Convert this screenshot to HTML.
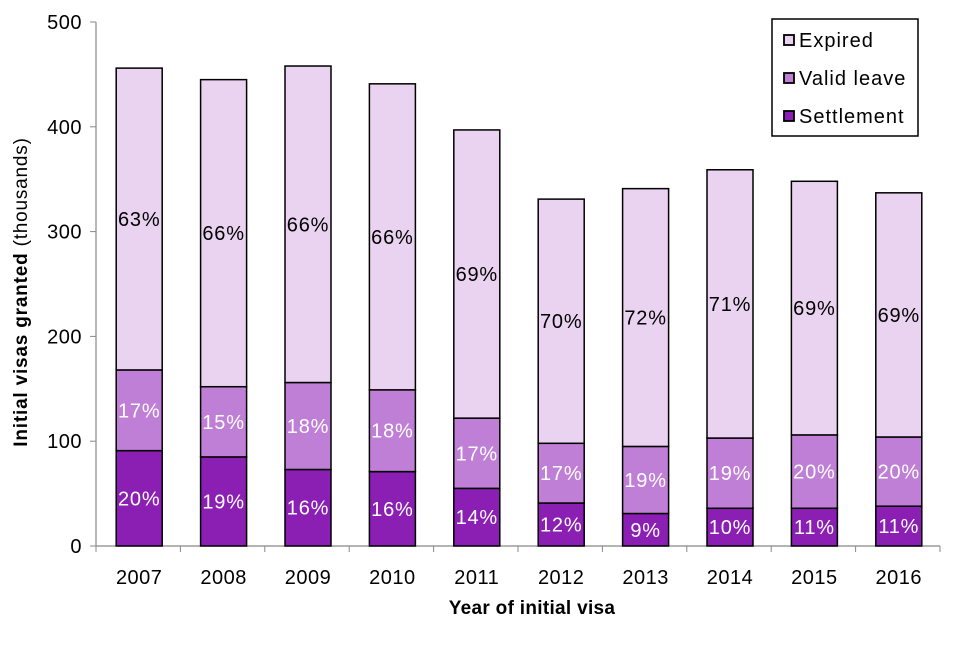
<!DOCTYPE html>
<html><head><meta charset="utf-8"><style>
body{margin:0;background:#fff;font-family:"Liberation Sans",Arial,sans-serif}
</style></head><body>
<svg id="c" width="960" height="640" xmlns="http://www.w3.org/2000/svg"></svg>
<script>
const years=["2007","2008","2009","2010","2011","2012","2013","2014","2015","2016"];
const settlement=[91,85,73,71,55,41,31,36,36,38];
const validLeave=[77,67,83,78,67,57,64,67,70,66];
const expired=[288,293,302,292,275,233,246,256,242,233];
const settlementPct=["20%","19%","16%","16%","14%","12%","9%","10%","11%","11%"];
const validPct=["17%","15%","18%","18%","17%","17%","19%","19%","20%","20%"];
const expiredPct=["63%","66%","66%","66%","69%","70%","72%","71%","69%","69%"];
const yTicks=[0,100,200,300,400,500];

const svg=document.getElementById('c');
const NS="http://www.w3.org/2000/svg";
const x0=96,x1=940,yBase=546,yTop=22;
const y=v=>yBase-(v/500)*(yBase-yTop);
const step=(x1-x0)/years.length;
const xc=i=>x0+step*(i+0.5)+1;
const bw=46;
function el(t,a,txt){const e=document.createElementNS(NS,t);for(const k in a)e.setAttribute(k,a[k]);if(txt!==undefined)e.textContent=txt;svg.appendChild(e);return e;}
const colors={s:"#8b1fb3",v:"#c07fd6",e:"#ead3f0"};

let ax=el('line',{x1:x0,y1:yTop,x2:x0,y2:yBase,stroke:"#888","stroke-width":1.2});

yTicks.forEach(t=>{
  let l=el('line',{x1:x0-6,y1:y(t),x2:x0,y2:y(t),stroke:"#888"});
  
  let tx=el('text',{x:x0-14,y:y(t)+7,"text-anchor":"end","font-size":20,"letter-spacing":0.5},String(t));
  
});
let xa=el('line',{x1:x0,y1:yBase,x2:x1,y2:yBase,stroke:"#888","stroke-width":1.2});

for(let i=0;i<=years.length;i++){
  let l=el('line',{x1:x0+step*i,y1:yBase,x2:x0+step*i,y2:yBase+6,stroke:"#888"});
  
}
years.forEach((yr,i)=>{
  let s=settlement[i],v=validLeave[i],e=expired[i];
  const segs=[[0,s,colors.s,settlementPct[i],"#fff",'bar-settlement'],[s,s+v,colors.v,validPct[i],"#fff",'bar-valid-leave'],[s+v,s+v+e,colors.e,expiredPct[i],"#000",'bar-expired']];
  segs.forEach(([a,b,c,p,tc,nm])=>{
    let r=el('rect',{x:xc(i)-bw/2,y:y(b),width:bw,height:y(a)-y(b),fill:c,stroke:"#000","stroke-width":1.5});
    
    let t=el('text',{x:xc(i),y:(y(a)+y(b))/2+7,"text-anchor":"middle","font-size":20,"letter-spacing":0.8,fill:tc},p);
    
  });
  let xl=el('text',{x:xc(i),y:yBase+38,"text-anchor":"middle","font-size":20,"letter-spacing":0.5},yr);
  
});
let xt=el('text',{x:532,y:614,"text-anchor":"middle","font-size":19,"font-weight":"bold","letter-spacing":0.3},"Year of initial  visa");

let yt=el('text',{x:0,y:0,"text-anchor":"middle","font-size":19,"letter-spacing":0.8,transform:"translate(27,292) rotate(-90)"});

yt.innerHTML='<tspan font-weight="bold">Initial visas granted</tspan> (thousands)';
let lb=el('rect',{x:772,y:19,width:146,height:117,fill:"#fff",stroke:"#000","stroke-width":1.5});

[["Expired",colors.e,40],["Valid leave",colors.v,78],["Settlement",colors.s,116]].forEach(([n,c,yy])=>{
  let sw=el('rect',{x:784,y:yy-5,width:10,height:10,fill:c,stroke:"#000","stroke-width":1.8});
  
  let t=el('text',{x:799,y:yy+7,"font-size":20,"letter-spacing":1},n);
  
});
</script>
</body></html>
